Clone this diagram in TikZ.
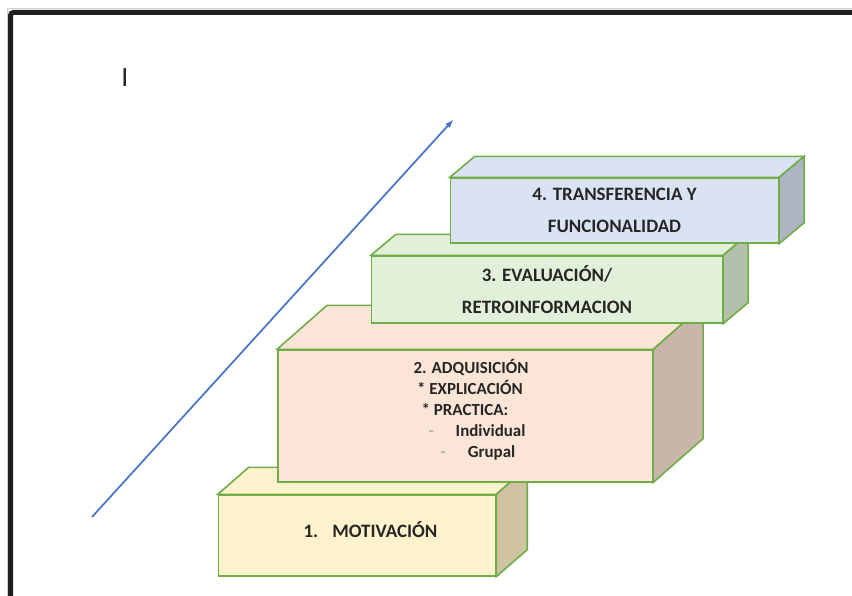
\documentclass[tikz,border=0pt]{standalone}
\usepackage{fontspec}
\setmainfont{Carlito}
\usetikzlibrary{calc}
\definecolor{edgegreen}{HTML}{70AD47}
\definecolor{arrowblue}{HTML}{4472C4}
\definecolor{motfront}{HTML}{FFF2CC}
\definecolor{motside}{HTML}{CFC3A2}
\definecolor{adqfront}{HTML}{FBE5D6}
\definecolor{adqside}{HTML}{C9B5A9}
\definecolor{evafront}{HTML}{E2F0D9}
\definecolor{evaside}{HTML}{B4C0AC}
\definecolor{trafront}{HTML}{DAE3F3}
\definecolor{traside}{HTML}{AEB5C2}

% top and side faces of a step, drawn from the front node
\newcommand{\stepfaces}[5]{%
  \draw[face,fill=#4] (#1.north west) -- ++(#2,-#3) -- ($(#1.north east)+(#2,-#3)$) -- (#1.north east) -- cycle;
  \draw[face,fill=#5] (#1.north east) -- ++(#2,-#3) -- ($(#1.south east)+(#2,-#3)$) -- (#1.south east) -- cycle;
}

\begin{document}
\begin{tikzpicture}[x=1bp,y=-1bp,
    face/.style={draw=edgegreen,line width=1.6bp,line join=miter},
    stepbox/.style={face,rectangle,inner sep=0pt,align=center,text=black!85,
      font=\fontsize{19}{32}\bfseries\selectfont}]
    \useasboundingbox (0,0) rectangle (852,596);

    % frame
    \draw[gray!35,line width=1bp] (7,600) -- (7,9) -- (860,9);
    \draw[black!88,line width=5bp,rounded corners=3bp] (10.5,600) -- (10.5,12.5) -- (860,12.5);

    \node[font=\fontsize{28}{28}\selectfont,text=black!85] (cursor) at (125,78) {I};

    % arrow
    \coordinate (arrowstart) at (92,517);
    \coordinate (arrowend) at (453,120);
    \draw[arrowblue,line width=1.7bp,-latex] (arrowstart) -- (arrowend);

    % 1
    \node[stepbox,fill=motfront,minimum width=278,minimum height=81] (mot) at (357,535.5)
      {\raisebox{-1.5bp}[0pt][0pt]{\hspace*{27bp}1.\hspace{14bp}MOTIVACIÓN}};
    \stepfaces{mot}{31}{27}{motfront}{motside}

    % 2
    \node[stepbox,fill=adqfront,minimum width=376,minimum height=132,
      font=\fontsize{17}{21}\bfseries\selectfont] (adq) at (465,416)
      {\hspace*{12bp}2. ADQUISICIÓN\\ \hspace*{10bp}* EXPLICACIÓN\\ * PRACTICA:\\
       \hspace*{24bp}{\color{gray!60}-}\hspace{22bp}Individual\\
       \hspace*{26bp}{\color{gray!60}-}\hspace{22bp}Grupal\\[-12bp]\strut};
    \stepfaces{adq}{50}{44}{adqfront}{adqside}

    % 3
    \node[stepbox,fill=evafront,minimum width=352,minimum height=67] (eva) at (547,289.5)
      {3. EVALUACIÓN/\\ RETROINFORMACION};
    \stepfaces{eva}{25}{21}{evafront}{evaside}

    % 4
    \node[stepbox,fill=trafront,minimum width=329,minimum height=65] (tra) at (614.5,210.5)
      {4. TRANSFERENCIA Y\\ FUNCIONALIDAD};
    \stepfaces{tra}{25}{21}{trafront}{traside}
\end{tikzpicture}
\end{document}
